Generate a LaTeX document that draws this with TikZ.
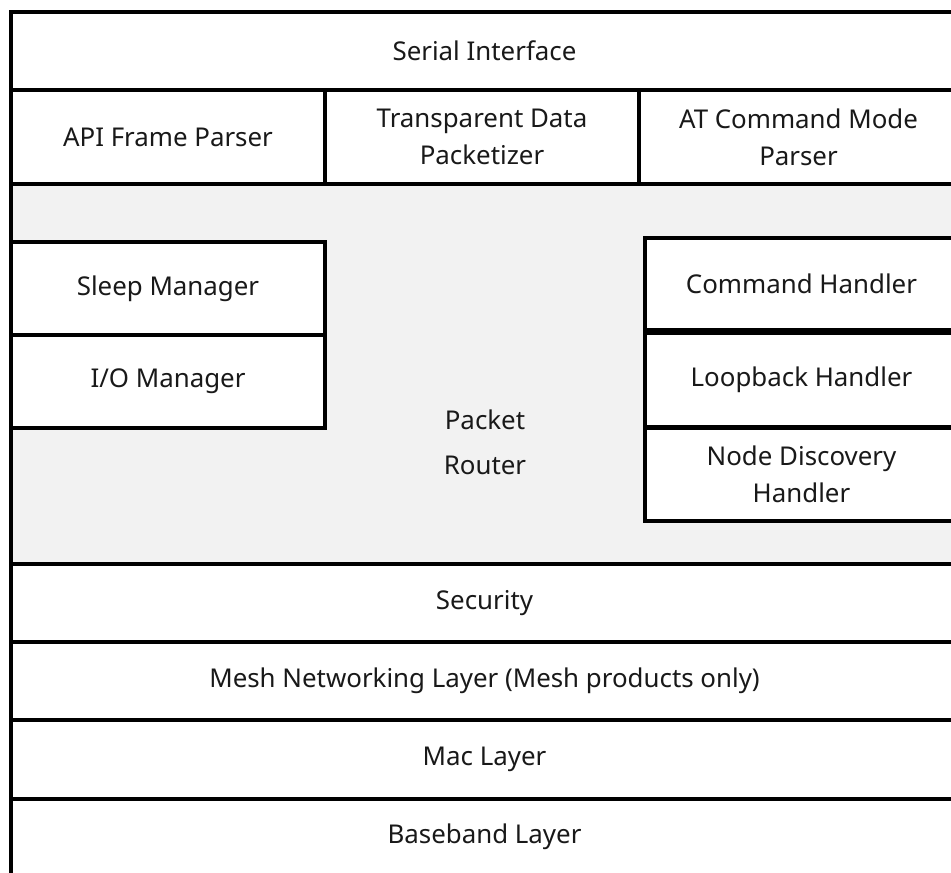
\documentclass[tikz,border=0pt]{standalone}
\usepackage{fontspec}
\setmainfont{Noto Sans}
\begin{document}
\begin{tikzpicture}[x=0.75pt,y=-0.75pt,
  lay/.style={draw=black, line width=3.4pt, fill=white, outer sep=0pt, inner sep=0pt,
    anchor=north west, align=center, text=black!90,
    font=\fontsize{19.4}{27.75}\selectfont},
  router/.style={lay, fill=black!5},
  lbl/.style={inner sep=0pt, align=center, text=black!90,
    font=\fontsize{19.4}{33.5}\selectfont}
]
\useasboundingbox (0,0) rectangle (951,873);
\clip (0,0) rectangle (951,873);
% top rows
\node[lay, minimum width=710.25pt, minimum height=58.5pt] (serial) at (11,12) {Serial Interface};
\node[lay, minimum width=235.5pt, minimum height=70.5pt] (api) at (11,90) {API Frame Parser};
\node[lay, minimum width=235.5pt, minimum height=70.5pt] (tdp) at (325,90) {Transparent Data\\Packetizer};
\node[lay, minimum width=239.25pt, minimum height=70.5pt] (atc) at (639,90) {AT Command Mode\\Parser};
% packet router area
\node[router, minimum width=710.25pt, minimum height=285pt] (pr) at (11,184) {};
\node[lbl] (prl) at (485,442) {Packet\\Router};
% left blocks
\node[lay, minimum width=235.5pt, minimum height=69.75pt] (sleep) at (11,242) {Sleep Manager};
\node[lay, minimum width=235.5pt, minimum height=69.75pt] (io) at (11,335) {I/O Manager};
% right blocks
\node[lay, minimum width=234.75pt, minimum height=69pt] (cmd) at (645,238) {Command Handler};
\node[lay, minimum width=234.75pt, minimum height=70.5pt] (loop) at (645,333) {Loopback Handler};
\node[lay, minimum width=234.75pt, minimum height=69.75pt] (nd) at (645,428) {Node Discovery\\Handler};
% bottom rows
\node[lay, minimum width=710.25pt, minimum height=58.5pt] (sec) at (11,564) {Security};
\node[lay, minimum width=710.25pt, minimum height=58.5pt] (mesh) at (11,642) {Mesh Networking Layer (Mesh products only)};
\node[lay, minimum width=710.25pt, minimum height=59.25pt] (mac) at (11,720) {Mac Layer};
\node[lay, minimum width=710.25pt, minimum height=57pt] (bb) at (11,799) {Baseband Layer};
\end{tikzpicture}
\end{document}
